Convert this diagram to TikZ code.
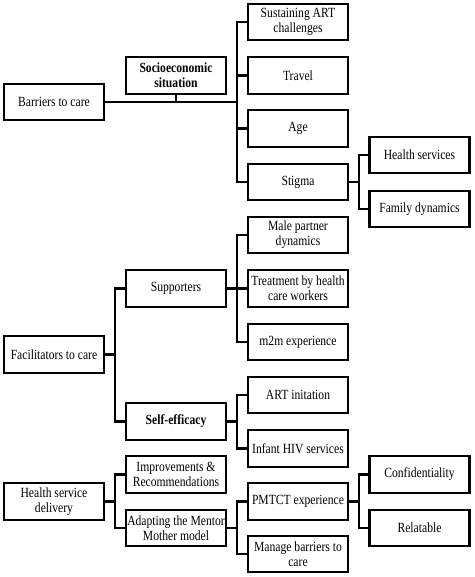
\documentclass[tikz,border=0pt]{standalone}
\usepackage{fontspec}
\setmainfont[FakeStretch=0.83]{Liberation Serif}
\begin{document}
\begin{tikzpicture}[x=1pt,y=-1pt,
  box/.style={draw, line width=2.2pt, minimum width=100pt, minimum height=36.5pt,
    inner sep=0pt, align=center, font=\fontsize{14}{15}\selectfont},
  bbox/.style={box, font=\fontsize{14}{15}\selectfont\bfseries},
  conn/.style={line width=2.2pt, line cap=rect}]
\useasboundingbox (0,0) rectangle (474,577);
% column 1
\node[box] (barriers) at (54,102) {Barriers to care};
\node[box] (facil) at (54,354.5) {Facilitators to care};
\node[box] (hsd) at (54,501.5) {Health service\\delivery};
% column 2
\node[bbox] (socio) at (176,75.5) {Socioeconomic\\situation};
\node[box] (supp) at (176,288.5) {Supporters};
\node[bbox] (self) at (176,421.5) {Self-efficacy};
\node[box] (impr) at (176,474.5) {Improvements \&\\Recommendations};
\node[box] (adapt) at (176,528) {Adapting the Mentor\\Mother model};
% column 3
\node[box] (sust) at (298,22) {Sustaining ART\\challenges};
\node[box] (travel) at (298,75.5) {Travel};
\node[box] (age) at (298,128.5) {Age};
\node[box] (stigma) at (298,182) {Stigma};
\node[box] (male) at (298,235) {Male partner\\dynamics};
\node[box] (treat) at (298,288.5) {Treatment by health\\care workers};
\node[box] (m2m) at (298,342) {m2m experience};
\node[box] (art) at (298,395) {ART initation};
\node[box] (infant) at (298,448.5) {Infant HIV services};
\node[box] (pmtct) at (298,501.5) {PMTCT experience};
\node[box] (manage) at (298,554) {Manage barriers to\\care};
% column 4
\node[box] (hserv) at (419.5,155) {Health services};
\node[box] (family) at (419.5,209) {Family dynamics};
\node[box] (conf) at (419.5,474.5) {Confidentiality};
\node[box] (relat) at (419.5,528) {Relatable};
% junctions
\coordinate (jb) at (237,102);
\coordinate (js) at (359,182);
\coordinate (jf) at (115,354.5);
\coordinate (jsu) at (237,288.5);
\coordinate (jse) at (237,421.5);
\coordinate (jh) at (115,501.5);
\coordinate (ja) at (237,528);
\coordinate (jp) at (359,501.5);
% barriers
\draw[conn] (barriers.east) -- (jb);
\draw[conn] (socio.south) -- (socio.south |- jb);
\foreach \n in {sust,travel,age,stigma} \draw[conn] (\n.west) -| (jb);
% stigma
\draw[conn] (stigma.east) -- (js);
\foreach \n in {hserv,family} \draw[conn] (\n.west) -| (js);
% facilitators
\draw[conn] (facil.east) -- (jf);
\foreach \n in {supp,self} \draw[conn] (\n.west) -| (jf);
\draw[conn] (supp.east) -- (jsu);
\foreach \n in {male,treat,m2m} \draw[conn] (\n.west) -| (jsu);
\draw[conn] (self.east) -- (jse);
\foreach \n in {art,infant} \draw[conn] (\n.west) -| (jse);
% health service delivery
\draw[conn] (hsd.east) -- (jh);
\foreach \n in {impr,adapt} \draw[conn] (\n.west) -| (jh);
\draw[conn] (adapt.east) -- (ja);
\foreach \n in {pmtct,manage} \draw[conn] (\n.west) -| (ja);
\draw[conn] (pmtct.east) -- (jp);
\foreach \n in {conf,relat} \draw[conn] (\n.west) -| (jp);
\end{tikzpicture}
\end{document}
